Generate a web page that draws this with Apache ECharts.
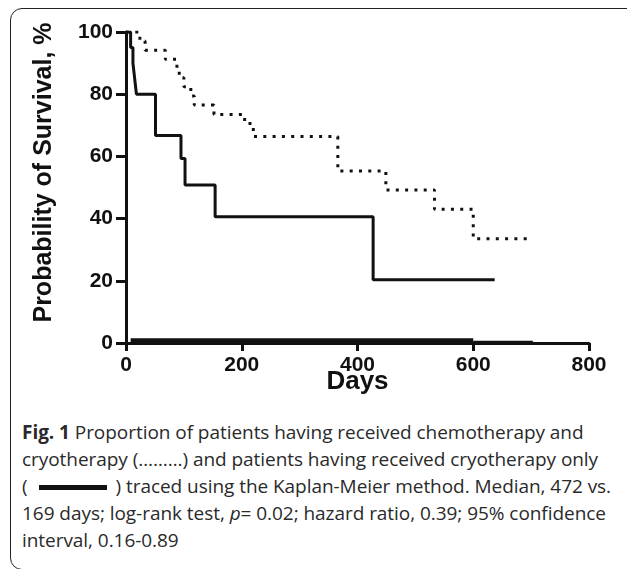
<!DOCTYPE html>
<html>
	<head>
		<meta charset="utf-8">
		<title>Kaplan-Meier</title>
		<script src="https://cdn.jsdelivr.net/npm/echarts@6/dist/echarts.min.js"></script>
		<style>
			body { margin: 0; width: 627px; height: 569px; overflow: hidden; background: #fff; position: relative; }
			#frame { position: absolute; left: 10px; top: 8px; width: 700px; height: 560px; border: 1.5px solid #222; border-radius: 12px; }
			#main { position: absolute; left: 0; top: 0; width: 627px; height: 410px; }
			#caption { position: absolute; left: 22px; top: 419px; width: 605px; font-family: "Open Sans", sans-serif; font-size: 19px; line-height: 27px; color: #2a2a2a; white-space: nowrap; letter-spacing: -0.05px; }
			#caption b { font-weight: 700; }
			.bar { display: inline-block; width: 68px; height: 5px; background: #111; vertical-align: middle; margin: 0 9px 0 11px; }
		</style>
	</head>
	<body>
		<div id="frame"></div>
		<div id="main"></div>
		<div id="caption">
			<b>Fig. 1</b> Proportion of patients having received chemotherapy and<br>
			cryotherapy (………) and patients having received cryotherapy only<br>
			(<span class="bar"></span>) traced using the Kaplan-Meier method. Median, 472 vs.<br>
			169 days; log-rank test, <i>p</i>= 0.02; hazard ratio, 0.39; 95% confidence<br>
			interval, 0.16-0.89
		</div>
		<script>
			// Kaplan-Meier steps, [day, survival %]
			var chemoCryo = [
				[0, 100], [24, 97.1], [33, 94.1], [68, 91.2], [88, 88.2], [92, 85.3],
				[100, 82.4], [112, 79.4], [118, 76.5], [152, 73.5], [205, 70.6], [220, 66.4],
				[366, 55.3], [449, 49.2], [533, 43.0], [600, 33.5], [703, 33.5]
			];
			var cryoOnly = [
				[0, 100], [8, 95], [12, 90], [15, 85], [18, 80], [51, 66.7], [95, 59.3],
				[102, 50.8], [154, 40.6], [427, 20.3], [637, 20.3]
			];
			// censor marks piled along the baseline
			var censorA = [[8, 0.6], [600, 0.6]];
			var censorB = [[600, 0.2], [703, 0.2]];
			var xTicks = [0, 200, 400, 600, 800];
			var yTicks = [0, 20, 40, 60, 80, 100];

			var myChart = echarts.init(document.getElementById('main'));
			var bold = { fontFamily: 'Liberation Sans', fontWeight: 'bold', color: '#111' };
			var option = {
				animation: false,
				grid: { left: 126, right: 38, top: 32, height: 311 },
				xAxis: {
					type: 'value', min: xTicks[0], max: xTicks[xTicks.length - 1], interval: 200,
					name: 'Days', nameLocation: 'middle', nameGap: 26, nameMoveOverlap: false,
					nameTextStyle: Object.assign({ fontSize: 26 }, bold),
					axisLine: { lineStyle: { color: '#111', width: 3 } },
					axisTick: { length: 8, lineStyle: { color: '#111', width: 3 } },
					axisLabel: Object.assign({ fontSize: 21, margin: 12 }, bold),
					splitLine: { show: false }
				},
				yAxis: {
					type: 'value', min: yTicks[0], max: yTicks[yTicks.length - 1], interval: 20,
					name: 'Probability of Survival, %', nameLocation: 'middle', nameGap: 69,
					nameTextStyle: Object.assign({ fontSize: 25, padding: [0, 0, 0, 30] }, bold),
					axisLine: { show: true, lineStyle: { color: '#111', width: 3 } },
					axisTick: { show: true, length: 10, lineStyle: { color: '#111', width: 3 } },
					axisLabel: Object.assign({ fontSize: 21, margin: 13 }, bold),
					splitLine: { show: false }
				},
				series: [
					{
						name: 'chemo + cryo', type: 'line', step: 'end', data: chemoCryo,
						symbol: 'none', lineStyle: { color: '#111', width: 3, type: [3, 6.3], cap: 'butt' }
					},
					{
						name: 'cryo only', type: 'line', step: 'end', data: cryoOnly,
						symbol: 'none', lineStyle: { color: '#111', width: 3 }
					},
					{
						type: 'line', data: censorA, symbol: 'none', silent: true,
						lineStyle: { color: '#111', width: 6 }
					},
					{
						type: 'line', data: censorB, symbol: 'none', silent: true,
						lineStyle: { color: '#111', width: 3.5 }
					}
				]
			};
			myChart.setOption(option);
		</script>
	</body>
</html>
